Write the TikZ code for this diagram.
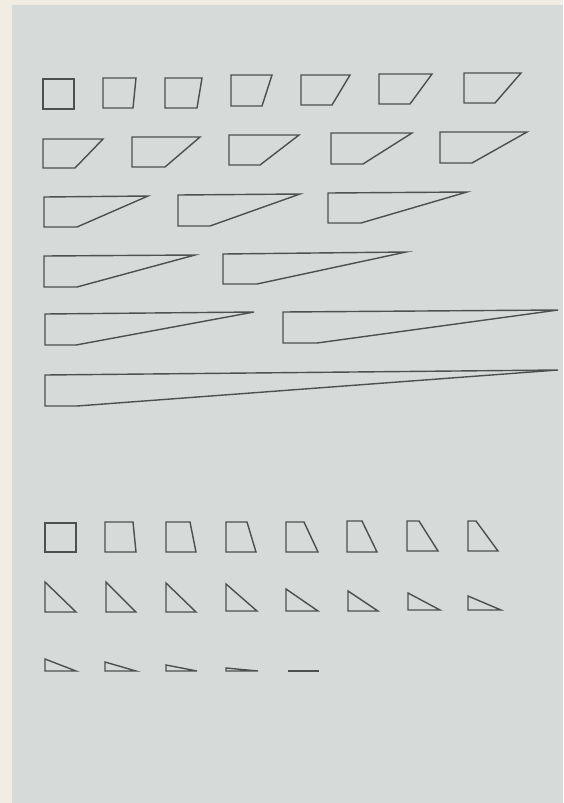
\documentclass[tikz,border=0pt]{standalone}
\definecolor{paper}{RGB}{241,237,227}
\definecolor{card}{RGB}{214,218,216}
\definecolor{ink}{RGB}{78,80,80}

\begin{document}
\begin{tikzpicture}[scale=0.2]
        \tikzstyle{every path}+=[line width=0.8pt, line join=miter]
        % page and card
        \fill [paper] (0,0) rectangle (56.3,-80.3);
        \fill [card] (1.2,-0.5) rectangle (56.3,-80.3);
        % upper series, row 1
        \draw [ink] (4.3,-10.9) -- (7.4,-10.9) -- (7.4,-7.9) -- (4.3,-7.9) -- cycle;
        \draw [ink] (10.3,-10.8) -- (13.3,-10.8) -- (13.6,-7.8) -- (10.3,-7.8) -- cycle;
        \draw [ink] (16.5,-10.8) -- (19.7,-10.8) -- (20.2,-7.8) -- (16.5,-7.8) -- cycle;
        \draw [ink] (23.1,-10.6) -- (26.2,-10.6) -- (27.2,-7.5) -- (23.1,-7.5) -- cycle;
        \draw [ink] (30.1,-10.5) -- (33.2,-10.5) -- (35.0,-7.5) -- (30.1,-7.5) -- cycle;
        \draw [ink] (37.9,-10.4) -- (41.0,-10.4) -- (43.2,-7.4) -- (37.9,-7.4) -- cycle;
        \draw [ink] (46.4,-10.3) -- (49.5,-10.3) -- (52.1,-7.3) -- (46.4,-7.3) -- cycle;
        % row 2
        \draw [ink] (4.3,-16.8) -- (7.5,-16.8) -- (10.3,-13.9) -- (4.3,-13.9) -- cycle;
        \draw [ink] (13.2,-16.7) -- (16.5,-16.7) -- (20.0,-13.7) -- (13.2,-13.7) -- cycle;
        \draw [ink] (22.9,-16.5) -- (26.0,-16.5) -- (29.9,-13.5) -- (22.9,-13.5) -- cycle;
        \draw [ink] (33.1,-16.4) -- (36.3,-16.4) -- (41.2,-13.3) -- (33.1,-13.3) -- cycle;
        \draw [ink] (44.0,-16.3) -- (47.2,-16.3) -- (52.7,-13.2) -- (44.0,-13.2) -- cycle;
        % row 3
        \draw [ink] (4.4,-22.7) -- (7.7,-22.7) -- (14.8,-19.6) -- (4.4,-19.7) -- cycle;
        \draw [ink] (17.8,-22.6) -- (21.0,-22.6) -- (30.0,-19.4) -- (17.8,-19.5) -- cycle;
        \draw [ink] (32.8,-22.3) -- (36.1,-22.3) -- (46.7,-19.2) -- (32.8,-19.3) -- cycle;
        % row 4
        \draw [ink] (4.4,-28.7) -- (7.7,-28.7) -- (19.5,-25.5) -- (4.4,-25.6) -- cycle;
        \draw [ink] (22.3,-28.4) -- (25.7,-28.4) -- (40.6,-25.2) -- (22.3,-25.4) -- cycle;
        % row 5
        \draw [ink] (4.5,-34.5) -- (7.6,-34.5) -- (25.4,-31.2) -- (4.5,-31.4) -- cycle;
        \draw [ink] (28.3,-34.3) -- (31.7,-34.3) -- (55.8,-31.0) -- (28.3,-31.2) -- cycle;
        % row 6
        \draw [ink] (4.5,-40.6) -- (7.7,-40.6) -- (55.8,-37.0) -- (4.5,-37.5) -- cycle;
        % lower series, trapezoids
        \draw [ink] (4.5,-55.2) -- (7.6,-55.2) -- (7.6,-52.3) -- (4.5,-52.3) -- cycle;
        \draw [ink] (10.5,-55.2) -- (13.6,-55.2) -- (13.3,-52.2) -- (10.5,-52.2) -- cycle;
        \draw [ink] (16.6,-55.2) -- (19.6,-55.2) -- (19.0,-52.2) -- (16.6,-52.2) -- cycle;
        \draw [ink] (22.6,-55.2) -- (25.6,-55.2) -- (24.7,-52.2) -- (22.6,-52.2) -- cycle;
        \draw [ink] (28.6,-55.2) -- (31.8,-55.2) -- (30.4,-52.2) -- (28.6,-52.2) -- cycle;
        \draw [ink] (34.7,-55.2) -- (37.7,-55.2) -- (36.2,-52.1) -- (34.7,-52.1) -- cycle;
        \draw [ink] (40.7,-55.1) -- (43.8,-55.1) -- (41.9,-52.1) -- (40.7,-52.1) -- cycle;
        \draw [ink] (46.8,-55.1) -- (49.8,-55.1) -- (47.6,-52.1) -- (46.8,-52.1) -- cycle;
        % triangles
        \draw [ink] (4.5,-61.2) -- (7.6,-61.2) -- (4.5,-58.2) -- cycle;
        \draw [ink] (10.6,-61.2) -- (13.6,-61.2) -- (10.6,-58.2) -- cycle;
        \draw [ink] (16.6,-61.2) -- (19.6,-61.2) -- (16.6,-58.3) -- cycle;
        \draw [ink] (22.6,-61.1) -- (25.7,-61.1) -- (22.6,-58.4) -- cycle;
        \draw [ink] (28.6,-61.1) -- (31.8,-61.1) -- (28.6,-58.9) -- cycle;
        \draw [ink] (34.8,-61.1) -- (37.8,-61.1) -- (34.8,-59.1) -- cycle;
        \draw [ink] (40.8,-61.0) -- (44.0,-61.0) -- (40.8,-59.3) -- cycle;
        \draw [ink] (46.8,-61.0) -- (50.1,-61.0) -- (46.8,-59.6) -- cycle;
        % flat ones
        \draw [ink] (4.5,-67.1) -- (7.6,-67.1) -- (4.5,-65.9) -- cycle;
        \draw [ink] (10.5,-67.1) -- (13.6,-67.1) -- (10.5,-66.2) -- cycle;
        \draw [ink] (16.6,-67.1) -- (19.7,-67.1) -- (16.6,-66.5) -- cycle;
        \draw [ink] (22.6,-67.1) -- (25.8,-67.1) -- (22.6,-66.8) -- cycle;
        \draw [ink] (28.8,-67.1) -- (31.9,-67.1);
\end{tikzpicture}
\end{document}
